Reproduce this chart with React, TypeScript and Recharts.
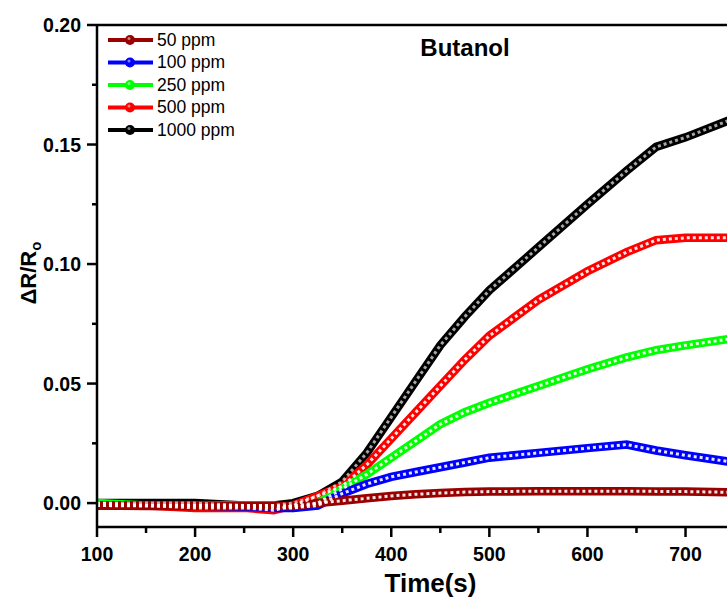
import React from 'react';
import { LineChart, Line, XAxis, YAxis, ReferenceLine, Legend, Customized } from 'recharts';

const times = [100, 150, 200, 250, 280, 300, 325, 350, 375, 400, 425, 450, 475, 500, 550, 600, 640, 670, 700, 750];
const ppm50 = [-0.001, -0.0012, -0.0012, -0.0012, -0.0012, -0.0012, 0.0, 0.001, 0.002, 0.003, 0.0037, 0.0042, 0.0046, 0.0048, 0.005, 0.005, 0.005, 0.0049, 0.0048, 0.0045];
const ppm100 = [-0.001, -0.001, -0.001, -0.0015, -0.002, -0.002, -0.001, 0.004, 0.008, 0.011, 0.013, 0.015, 0.017, 0.019, 0.021, 0.023, 0.0245, 0.022, 0.02, 0.017];
const ppm250 = [0.0, -0.001, -0.001, -0.001, -0.001, -0.002, 0.0, 0.006, 0.012, 0.019, 0.026, 0.033, 0.038, 0.042, 0.049, 0.056, 0.061, 0.064, 0.066, 0.069];
const ppm500 = [-0.001, -0.001, -0.002, -0.002, -0.003, -0.001, 0.003, 0.007, 0.016, 0.027, 0.038, 0.049, 0.06, 0.07, 0.085, 0.097, 0.105, 0.11, 0.111, 0.111];
const ppm1000 = [0.0, 0.0, 0.0, -0.001, -0.001, 0.0, 0.003, 0.009, 0.021, 0.036, 0.051, 0.066, 0.078, 0.089, 0.107, 0.125, 0.139, 0.149, 0.153, 0.161];

const xTicks = [100, 150, 200, 250, 300, 350, 400, 450, 500, 550, 600, 650, 700, 750];
const yTicks = [0, 0.025, 0.05, 0.075, 0.1, 0.125, 0.15, 0.175, 0.2];

// drawn back to front: 1000 ppm first, 50 ppm on top
const series = [
  { key: 'p1000', name: '1000 ppm', color: '#000000', values: ppm1000 },
  { key: 'p500', name: '500 ppm', color: '#ff0000', values: ppm500 },
  { key: 'p250', name: '250 ppm', color: '#00ff00', values: ppm250 },
  { key: 'p100', name: '100 ppm', color: '#0000ff', values: ppm100 },
  { key: 'p50', name: '50 ppm', color: '#990000', values: ppm50 },
];
const legendOrder = ['p50', 'p100', 'p250', 'p500', 'p1000'];

const data = times.map((t, i) => {
  const row: any = { t };
  series.forEach((s) => {
    row[s.key] = s.values[i];
  });
  return row;
});

const font = 'Arial, "Liberation Sans", sans-serif';

const XTick = (props: any) => {
  const { x, y, payload } = props;
  const major = payload.value % 100 === 0;
  return (
    <g>
      <line x1={x} y1={y} x2={x} y2={y + (major ? 10 : 6)} stroke="#000" strokeWidth={2.5} />
      {major && (
        <text x={x} y={y + 34} textAnchor="middle" fontFamily={font} fontWeight="bold" fontSize={19.5} fill="#000">
          {payload.value}
        </text>
      )}
    </g>
  );
};

const YTick = (props: any) => {
  const { x, y, payload } = props;
  const major = Math.round(payload.value * 1000) % 50 === 0;
  return (
    <g>
      <line x1={x} y1={y} x2={x - (major ? 10 : 5)} y2={y} stroke="#000" strokeWidth={2.5} />
      {major && (
        <text x={x - 16} y={y + 7} textAnchor="end" fontFamily={font} fontWeight="bold" fontSize={19.5} fill="#000">
          {payload.value.toFixed(2)}
        </text>
      )}
    </g>
  );
};

const YLabel = () => (
  <text x={36} y={273} transform="rotate(-90 36 273)" textAnchor="middle" fontFamily={font} fontWeight="bold" fontSize={22} fill="#000">
    ΔR/R
    <tspan fontSize={15} dy={5}>o</tspan>
  </text>
);

const renderLegend = () => (
  <svg width={170} height={115}>
    {legendOrder.map((k, i) => {
      const s = series.find((d) => d.key === k)!;
      const cy = 11 + i * 22.5;
      return (
        <g key={k}>
          <line x1={0} y1={cy} x2={45} y2={cy} stroke={s.color} strokeWidth={4} />
          <circle cx={22} cy={cy} r={5} fill={s.color} />
          <circle cx={21} cy={cy - 1.5} r={1.5} fill="#fff" opacity={0.5} />
          <text x={49} y={cy + 5.5} fontFamily={font} fontSize={17.5} fill="#000">
            {s.name}
          </text>
        </g>
      );
    })}
  </svg>
);

export default function App() {
  return (
    <div style={{ position: 'absolute', left: 0, top: 0, width: 727, height: 599, overflow: 'hidden', background: '#fff' }}>
      <LineChart width={764} height={599} data={data} margin={{ top: 25, right: 0, left: 27, bottom: 0 }}>
        <XAxis
          dataKey="t"
          type="number"
          domain={[100, 780]}
          ticks={xTicks}
          interval={0}
          height={72}
          tickSize={0}
          tickMargin={0}
          tickLine={false}
          tick={<XTick />}
          axisLine={{ stroke: '#000', strokeWidth: 2.5 }}
          allowDataOverflow
          label={{ value: 'Time(s)', position: 'insideBottom', offset: 7, fontFamily: font, fontWeight: 'bold', fontSize: 26, fill: '#000' }}
        />
        <YAxis
          type="number"
          domain={[-0.01, 0.2]}
          ticks={yTicks}
          interval={0}
          width={70}
          tickSize={0}
          tickMargin={0}
          tickLine={false}
          tick={<YTick />}
          axisLine={{ stroke: '#000', strokeWidth: 2.5 }}
          allowDataOverflow
          label={<YLabel />}
        />
        <ReferenceLine y={0.2} stroke="#000" strokeWidth={2.5} />
        {series.map((s) => (
          <Line key={s.key} dataKey={s.key} stroke={s.color} strokeWidth={8.5} dot={false} type="linear" isAnimationActive={false} legendType="none" />
        ))}
        {series.map((s) => (
          <Line
            key={s.key + '-m'}
            dataKey={s.key}
            stroke="#ffffff"
            strokeOpacity={s.key === 'p1000' ? 0.65 : 0.9}
            strokeWidth={3}
            strokeDasharray="3 3"
            dot={false}
            type="linear"
            isAnimationActive={false}
            legendType="none"
          />
        ))}
        <Legend content={renderLegend} layout="vertical" verticalAlign="middle" align="center" wrapperStyle={{ top: 29, left: 108, width: 170 }} />
        <Customized
          component={() => (
            <text x={465} y={56} textAnchor="middle" fontFamily={font} fontWeight="bold" fontSize={24} fill="#000">
              Butanol
            </text>
          )}
        />
      </LineChart>
    </div>
  );
}
